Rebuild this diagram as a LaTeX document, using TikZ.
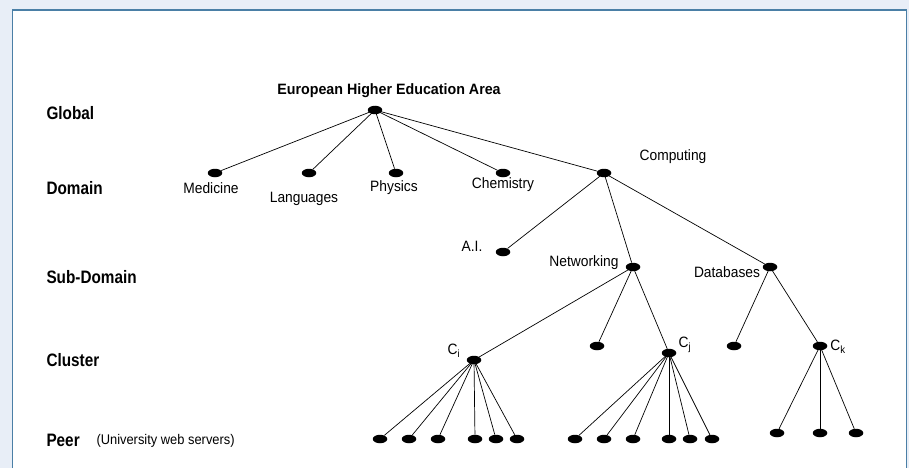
\documentclass[tikz,border=0pt]{standalone}
\usepackage{fontspec}
\setmainfont{Liberation Sans}
\newfontfamily\condA[FakeStretch=0.85]{Liberation Sans}
\newfontfamily\condB[FakeStretch=0.92]{Liberation Sans}
\newfontfamily\condC[FakeStretch=0.95]{Liberation Sans}
\usetikzlibrary{shapes.geometric}
\definecolor{bgblue}{HTML}{E8EEF7}
\definecolor{framecol}{HTML}{4A7FA6}
\begin{document}
\begin{tikzpicture}[x=1pt,y=-1pt,
  dot/.style={ellipse,fill=black,inner sep=0pt,minimum width=14.5pt,minimum height=8.5pt},
  edge/.style={draw=black,line width=0.7pt},
  level/.style={font=\condA\fontsize{18}{20}\selectfont\bfseries,anchor=west},
  lbl/.style={font=\condB\fontsize{15}{17}\selectfont}]
\useasboundingbox (0,0) rectangle (909,468);
\fill[bgblue] (0,0) rectangle (909,468);
\fill[white] (12,10) rectangle (906,468);
\draw[framecol,line width=1pt] (12,468) -- (12,10) -- (906,10) -- (906,468);
\draw[framecol,line width=2pt] (12,10.5) -- (906,10.5);

% level labels
\node[level] (lglobal) at (43,113) {Global};
\node[level] (ldomain) at (43,188) {Domain};
\node[level] (lsub) at (43,277) {Sub-Domain};
\node[level] (lcluster) at (43,360) {Cluster};
\node[level] (lpeer) at (43,440) {Peer};
\node[font=\condB\fontsize{14}{16}\selectfont,anchor=west] (lpeer2) at (93,441) {(University web servers)};

% nodes
\node[dot] (root) at (375,110) {};
\node[dot] (med) at (215,173) {};
\node[dot] (lang) at (309,173) {};
\node[dot] (phys) at (396,173) {};
\node[dot] (chem) at (503,173) {};
\node[dot] (comp) at (604,173) {};
\node[dot] (ai) at (503,252) {};
\node[dot] (net) at (633,267) {};
\node[dot] (db) at (770,267) {};
\node[dot] (ci) at (474,360) {};
\node[dot] (netm) at (597,346) {};
\node[dot] (cj) at (669,353) {};
\node[dot] (dbl) at (734,346) {};
\node[dot] (ck) at (820,346) {};
\foreach \x [count=\i] in {380,409,438,475,496,517} \node[dot] (pi\i) at (\x,439) {};
\foreach \x [count=\i] in {575,604,633,669,690,712} \node[dot] (pj\i) at (\x,439) {};
\foreach \x [count=\i] in {777,820,856} \node[dot] (pk\i) at (\x,433) {};

% labels
\node[font=\condC\fontsize{15}{17}\selectfont\bfseries] (troot) at (389,91) {European Higher Education Area};
\node[lbl] (tmed) at (211,188) {Medicine};
\node[lbl] (tlang) at (304,199) {Languages};
\node[lbl] (tphys) at (394,188) {Physics};
\node[lbl] (tchem) at (503,185) {Chemistry};
\node[lbl] (tcomp) at (673,157) {Computing};
\node[lbl] (tai) at (472,246) {A.I.};
\node[lbl] (tnet) at (584,263) {Networking};
\node[lbl] (tdb) at (727,272) {Databases};
\node[lbl] (tci) at (454,351) {C\textsubscript{i}};
\node[lbl] (tcj) at (685,345) {C\textsubscript{j}};
\node[lbl] (tck) at (838,347) {C\textsubscript{k}};

% edges
\foreach \t in {med,lang,phys,chem,comp} \draw[edge] (root.center) -- (\t);
\foreach \t in {ai,net,db} \draw[edge] (comp.center) -- (\t);
\foreach \t in {ci,netm,cj} \draw[edge] (net.center) -- (\t);
\foreach \t in {dbl,ck} \draw[edge] (db.center) -- (\t);
\foreach \i in {1,...,6} \draw[edge] (ci.center) -- (pi\i);
\foreach \i in {1,...,6} \draw[edge] (cj.center) -- (pj\i);
\foreach \i in {1,...,3} \draw[edge] (ck.center) -- (pk\i);
\end{tikzpicture}
\end{document}
